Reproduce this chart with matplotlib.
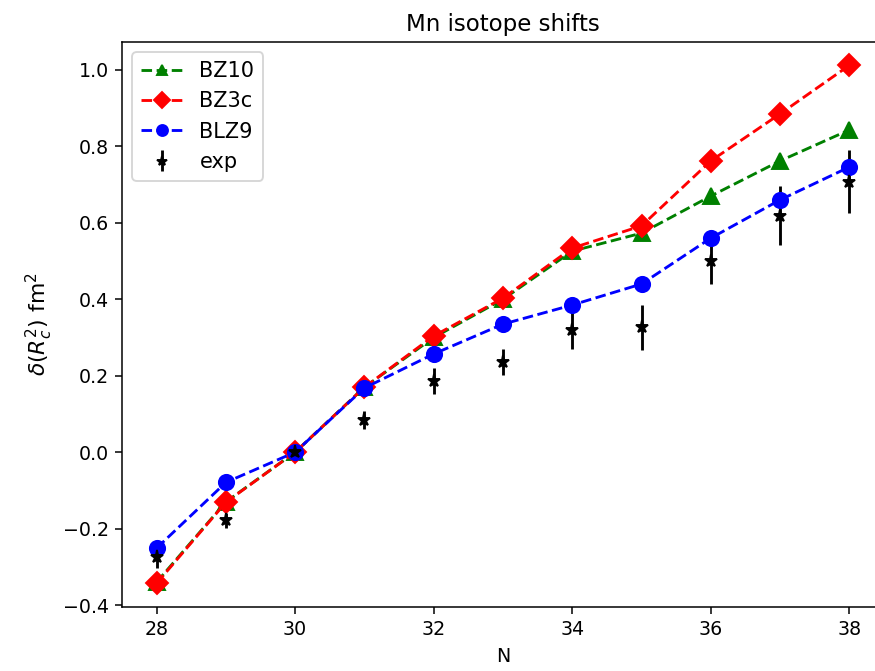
import matplotlib
matplotlib.use("Agg")
import matplotlib.pyplot as plt

N = [28, 29, 30, 31, 32, 33, 34, 35, 36, 37, 38]
bz10 = [-0.34, -0.13, 0.0, 0.17, 0.30, 0.40, 0.526, 0.573, 0.670, 0.762, 0.843]
bz3c = [-0.343, -0.131, 0.0, 0.170, 0.304, 0.403, 0.534, 0.592, 0.762, 0.885, 1.012]
blz9 = [-0.251, -0.079, 0.0, 0.168, 0.257, 0.335, 0.385, 0.440, 0.560, 0.660, 0.746]
exp_val = [-0.275, -0.178, 0.0, 0.084, 0.186, 0.236, 0.320, 0.327, 0.500, 0.618, 0.708]
exp_err = [0.027, 0.02, 0.01, 0.024, 0.033, 0.035, 0.05, 0.059, 0.06, 0.077, 0.083]

dpi = 137
fig = plt.figure(figsize=(875 / dpi, 671 / dpi), dpi=dpi)
ax = fig.add_axes([122 / 875, 64 / 671, 762 / 875, 565 / 671])

ax.errorbar(N, exp_val, yerr=exp_err, fmt='k*', markersize=7, label='exp')
ax.plot(N, bz10, 'g^--', label='BZ10', markersize=8)
ax.plot(N, bz3c, 'rD--', label='BZ3c', markersize=8)
ax.plot(N, blz9, 'bo--', label='BLZ9', markersize=8)

ax.set_xlim(27.5, 38.5)
ax.set_ylim(-0.405, 1.073)
ax.set_title('Mn isotope shifts')
ax.set_xlabel('N')
ax.set_ylabel(r'$\delta(R_c^2)$ fm$^2$', fontsize=11.5)
ax.legend(loc='upper left', fontsize=11, markerscale=0.72)

fig.savefig('out.png', dpi=dpi)
